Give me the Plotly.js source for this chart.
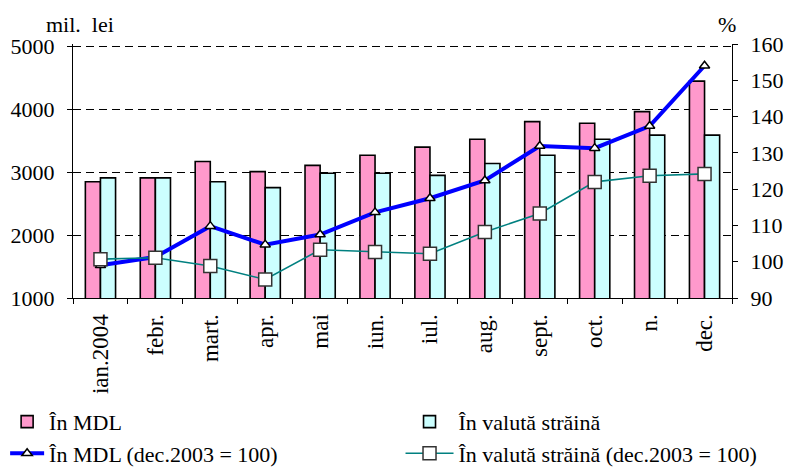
<!DOCTYPE html>
<html>
<head>
<meta charset="utf-8">
<script src="https://cdn.plot.ly/plotly-3.0.1.min.js"></script>
<style>
html,body{margin:0;padding:0;background:#fff;}
#chart{width:787px;height:467px;}
</style>
</head>
<body>
<div id="chart"></div>
<script>
const months = ["ian.2004","febr.","mart.","apr.","mai","iun.","iul.","aug.","sept.","oct.","n.","dec."];
const mdlValues = [2850,2910,3170,3010,3110,3270,3400,3525,3805,3780,3965,4450];
const fxValues = [2910,2910,2850,2755,2985,2985,2950,3140,3270,3525,3590,3590];
const mdlIndex = [99.0,101.3,109.8,104.7,107.5,113.6,117.5,122.4,131.9,131.3,137.4,154.0];
const fxIndex = [100.7,101.1,98.8,95.1,103.3,102.7,102.2,108.2,113.3,122.0,123.7,124.2];
const leftTicks = [1000,2000,3000,4000,5000];
const rightTicks = [90,100,110,120,130,140,150,160];

const FONT = "'Liberation Serif', 'Times New Roman', 'DejaVu Serif', serif";

const traces = [
  {type:"bar", name:"În MDL", x:months, y:mdlValues, legend:"legend",
   marker:{color:"#FF99CC", line:{color:"#000", width:1.6}}},
  {type:"bar", name:"În valută străină", x:months, y:fxValues, legend:"legend2",
   marker:{color:"#CCFFFF", line:{color:"#000", width:1.6}}},
  {type:"scatter", mode:"lines+markers", name:"În MDL (dec.2003 = 100)", x:months, y:mdlIndex, yaxis:"y2", legend:"legend",
   line:{color:"#0000FF", width:4},
   marker:{symbol:"triangle-up", size:9, color:"#fff", line:{color:"#000", width:1.5}}},
  {type:"scatter", mode:"lines+markers", name:"În valută străină (dec.2003 = 100)", x:months, y:fxIndex, yaxis:"y2", legend:"legend2",
   line:{color:"#008080", width:1.6},
   marker:{symbol:"square", size:13, color:"#fff", line:{color:"#333", width:1.5}}}
];

const legendCommon = {orientation:"v", yanchor:"top", xanchor:"left",
  font:{family:FONT, size:22, color:"#000"}, traceorder:"normal",
  bgcolor:"rgba(0,0,0,0)", borderwidth:0};

const layout = {
  width:787, height:467,
  margin:{l:73, r:55, t:44, b:169, autoexpand:false},
  paper_bgcolor:"#fff", plot_bgcolor:"#fff",
  font:{family:FONT, size:22, color:"#000"},
  barmode:"group", bargap:0.45, bargroupgap:0,
  showlegend:true,
  legend:Object.assign({}, legendCommon, {x:-0.103, y:-0.405, itemwidth:34}),
  legend2:Object.assign({}, legendCommon, {x:0.497, y:-0.405, itemwidth:48}),
  xaxis:{type:"category", range:[-0.5, 11.5], autorange:false, showline:true, linecolor:"#000", linewidth:1,
         ticks:"outside", tickson:"boundaries", ticklen:5, tickcolor:"#000",
         tickangle:-90, ticklabelstandoff:6, showgrid:false, zeroline:false,
         tickfont:{family:FONT, size:23}},
  yaxis:{range:[1000,5040], tickvals:leftTicks, ticktext:leftTicks.map(String),
         showline:true, linecolor:"#000", linewidth:1, ticks:"outside", ticklen:5,
         tickcolor:"#000", ticklabelstandoff:8,
         showgrid:true, gridcolor:"#000", gridwidth:1, griddash:"8px,5px",
         zeroline:false, tickfont:{family:FONT, size:22}},
  yaxis2:{overlaying:"y", side:"right", range:[90,160], tickvals:rightTicks,
          ticktext:rightTicks.map(String), showline:true, linecolor:"#000", linewidth:1,
          ticks:"outside", ticklen:5, tickcolor:"#000", ticklabelstandoff:8,
          showgrid:false, zeroline:false, tickfont:{family:FONT, size:22}},
  annotations:[
    {text:"mil.  lei", xref:"paper", yref:"paper", x:0.011, y:1.0, xanchor:"center", yanchor:"bottom",
     yshift:5, showarrow:false, font:{family:FONT, size:22}},
    {text:"%", xref:"paper", yref:"paper", x:0.992, y:1.0, xanchor:"center", yanchor:"bottom",
     yshift:5, showarrow:false, font:{family:FONT, size:22}}
  ]
};

Plotly.newPlot("chart", traces, layout, {displayModeBar:false, staticPlot:true});
</script>
</body>
</html>
